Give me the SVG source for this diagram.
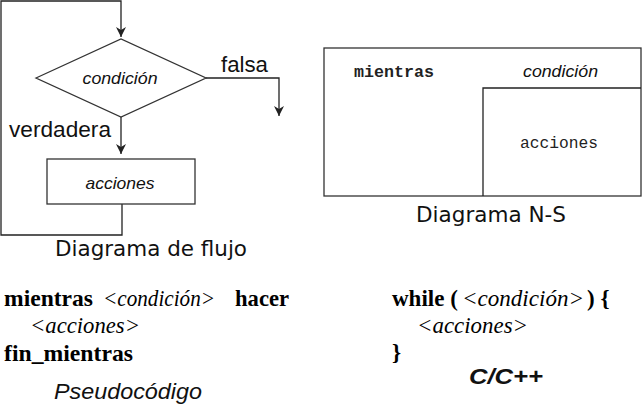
<svg xmlns="http://www.w3.org/2000/svg" width="643" height="404" viewBox="0 0 643 404">
<style>
.ln{fill:none;stroke:#222;stroke-width:1.3}
.box{fill:#fff;stroke:#333;stroke-width:1.3}
.it{font-family:"Liberation Sans",Arial,sans-serif;font-style:italic;font-size:17px;fill:#111}
.sans{font-family:"Liberation Sans",Arial,sans-serif;font-size:22px;fill:#111}
.dj{font-family:"DejaVu Sans",sans-serif;font-size:21.5px;fill:#111}
.tm{font-family:"Liberation Serif","Times New Roman",serif;font-size:23px;fill:#000}
.b{font-weight:bold}
.i{font-style:italic}
.mono{font-family:"Liberation Mono","Courier New",monospace;font-size:16.5px;fill:#222}
</style>
<defs>
<marker id="ah" markerWidth="12" markerHeight="12" refX="10" refY="5" orient="auto" markerUnits="userSpaceOnUse">
<path d="M0,0 L10,5 L0,10 L3,5 Z" fill="#222"/>
</marker>
</defs>
<g id="connectors">
<path class="ln" d="M122,204 V235 H1 V1 H121 V37" marker-end="url(#ah)"/>
<path class="ln" d="M206,78 H279 V116" marker-end="url(#ah)"/>
<path class="ln" d="M121,117 V154" marker-end="url(#ah)"/>
</g>
<g id="decision">
<polygon class="box" points="36,78 121,39 206,78 121,117"/>
<text class="it" x="120" y="84" text-anchor="middle" textLength="75" lengthAdjust="spacingAndGlyphs">condición</text>
</g>
<g id="actions">
<rect class="box" x="47" y="159" width="148" height="45"/>
<text class="it" x="120" y="189" text-anchor="middle" textLength="69" lengthAdjust="spacingAndGlyphs">acciones</text>
</g>
<g id="labels">
<text class="sans" x="221" y="72" textLength="47" lengthAdjust="spacingAndGlyphs">falsa</text>
<text class="sans" x="9" y="137" textLength="102" lengthAdjust="spacingAndGlyphs">verdadera</text>
<text class="dj" x="55" y="256" textLength="192" lengthAdjust="spacingAndGlyphs">Diagrama de flujo</text>
</g>
<g id="ns">
<rect class="box" x="324" y="48" width="317" height="148"/>
<path class="ln" d="M483,196 V88 H641"/>
<text class="mono b" x="354" y="77" textLength="80" lengthAdjust="spacingAndGlyphs">mientras</text>
<text class="it" x="523" y="77" textLength="75" lengthAdjust="spacingAndGlyphs">condición</text>
<text class="mono" x="520" y="148" textLength="78" lengthAdjust="spacingAndGlyphs">acciones</text>
<text class="dj" x="416" y="222" textLength="150" lengthAdjust="spacingAndGlyphs">Diagrama N-S</text>
</g>
<g id="pseudo">
<text class="tm" y="306"><tspan class="b" x="4" textLength="89" lengthAdjust="spacingAndGlyphs">mientras</tspan><tspan class="i" x="103" textLength="112" lengthAdjust="spacingAndGlyphs">&lt;condición&gt;</tspan><tspan class="b" x="235" textLength="54" lengthAdjust="spacingAndGlyphs">hacer</tspan></text>
<text class="tm i" x="30" y="333" textLength="110" lengthAdjust="spacingAndGlyphs">&lt;acciones&gt;</text>
<text class="tm b" x="4" y="361" textLength="129" lengthAdjust="spacingAndGlyphs">fin_mientras</text>
<text class="sans i" x="54" y="399" textLength="148" lengthAdjust="spacingAndGlyphs">Pseudocódigo</text>
</g>
<g id="ccode">
<text class="tm" y="306"><tspan class="b" x="392">while (</tspan><tspan class="i" x="462" textLength="122" lengthAdjust="spacingAndGlyphs">&lt;condición&gt;</tspan><tspan class="b" x="587">) {</tspan></text>
<text class="tm i" x="417" y="333" textLength="111" lengthAdjust="spacingAndGlyphs">&lt;acciones&gt;</text>
<text class="tm b" x="392" y="360">}</text>
<text class="sans b i" x="469" y="384" textLength="74" lengthAdjust="spacingAndGlyphs">C/C++</text>
</g>
</svg>
